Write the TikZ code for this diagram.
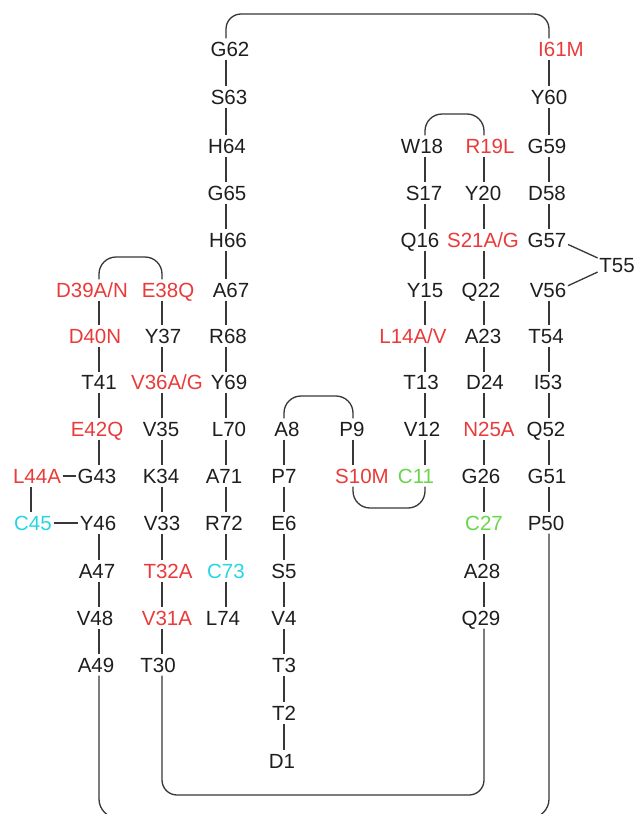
\documentclass[tikz,border=0pt]{standalone}
\usepackage{fontspec}
\setmainfont{Liberation Sans}
\definecolor{mred}{RGB}{234,58,58}
\definecolor{mgreen}{RGB}{104,214,72}
\definecolor{mcyan}{RGB}{38,214,228}
\definecolor{ink}{RGB}{30,30,30}
\definecolor{wire}{RGB}{55,55,55}
\begin{document}
\begin{tikzpicture}[x=1pt,y=-1pt,
  aa/.style={font=\fontsize{20.5}{24}\selectfont, text=ink, inner xsep=1.5pt, inner ysep=3pt, text height=14.7pt, text depth=0pt, anchor=center},
  mut/.style={aa, text=mred},
  cys/.style={aa, text=mgreen},
  cyb/.style={aa, text=mcyan},
  conn/.style={draw=wire, line width=1.3pt},
  loopy/.style={conn, rounded corners=17pt}]
\clip (0,0) rectangle (637,814);
\fill[white] (0,0) rectangle (637,814);
% column line positions
\coordinate (k0) at (31,0);
\coordinate (k1) at (99,0);
\coordinate (k2) at (162,0);
\coordinate (k3) at (226,0);
\coordinate (k4) at (284,0);
\coordinate (k5) at (353,0);
\coordinate (k6) at (425,0);
\coordinate (k7) at (484,0);
\coordinate (k8) at (549,0);
% column 3
\node[aa] (n62) at (230,49) {G62};
\node[aa] (n63) at (229,97) {S63};
\node[aa] (n64) at (227,146) {H64};
\node[aa] (n65) at (227,193) {G65};
\node[aa] (n66) at (228,240) {H66};
\node[aa] (n67) at (231,290) {A67};
\node[aa] (n68) at (228,336) {R68};
\node[aa] (n69) at (229,382.5) {Y69};
\node[aa] (n70) at (229,429) {L70};
\node[aa] (n71) at (224,476) {A71};
\node[aa] (n72) at (224,523) {R72};
\node[cyb] (n73) at (226,571) {C73};
\node[aa] (n74) at (223,618) {L74};
% column 8
\node[mut] (n61) at (561,49) {I61M};
\node[aa] (n60) at (549,97) {Y60};
\node[aa] (n59) at (547,146) {G59};
\node[aa] (n58) at (547,193) {D58};
\node[aa] (n57) at (547,240) {G57};
\node[aa] (n55) at (617,265) {T55};
\node[aa] (n56) at (548,290) {V56};
\node[aa] (n54) at (546,336) {T54};
\node[aa] (n53) at (548,382.5) {I53};
\node[aa] (n52) at (546,429) {Q52};
\node[aa] (n51) at (547,476) {G51};
\node[aa] (n50) at (546,523) {P50};
% column 7
\node[mut] (n19) at (490,146) {R19L};
\node[aa] (n20) at (483,193) {Y20};
\node[mut] (n21) at (483,240) {S21A/G};
\node[aa] (n22) at (481,290) {Q22};
\node[aa] (n23) at (483,336) {A23};
\node[aa] (n24) at (485,382.5) {D24};
\node[mut] (n25) at (489,429) {N25A};
\node[aa] (n26) at (481,476) {G26};
\node[cys] (n27) at (484,523) {C27};
\node[aa] (n28) at (482,571) {A28};
\node[aa] (n29) at (481,618) {Q29};
% column 6
\node[aa] (n18) at (422,146) {W18};
\node[aa] (n17) at (424,193) {S17};
\node[aa] (n16) at (420,240) {Q16};
\node[aa] (n15) at (425,290) {Y15};
\node[mut] (n14) at (413,336) {L14A/V};
\node[aa] (n13) at (421,382.5) {T13};
\node[aa] (n12) at (422,429) {V12};
\node[cys] (n11) at (416,476) {C11};
% column 5
\node[aa] (n9) at (352,429) {P9};
\node[mut] (n10) at (362,476) {S10M};
% column 4
\node[aa] (n8) at (287,429) {A8};
\node[aa] (n7) at (284,476) {P7};
\node[aa] (n6) at (284,523) {E6};
\node[aa] (n5) at (284,571) {S5};
\node[aa] (n4) at (284,618) {V4};
\node[aa] (n3) at (284,665) {T3};
\node[aa] (n2) at (284,713) {T2};
\node[aa] (n1) at (282,761) {D1};
% column 2
\node[mut] (n38) at (168,290) {E38Q};
\node[aa] (n37) at (163,336) {Y37};
\node[mut] (n36) at (167,382.5) {V36A/G};
\node[aa] (n35) at (161,429) {V35};
\node[aa] (n34) at (161,476) {K34};
\node[aa] (n33) at (162,523) {V33};
\node[mut] (n32) at (168,571) {T32A};
\node[mut] (n31) at (167,618) {V31A};
\node[aa] (n30) at (158,665) {T30};
% column 1
\node[mut] (n39) at (92,290) {D39A/N};
\node[mut] (n40) at (95,336) {D40N};
\node[aa] (n41) at (99,382.5) {T41};
\node[mut] (n42) at (97,429) {E42Q};
\node[aa] (n43) at (97,476) {G43};
\node[aa] (n46) at (98,523) {Y46};
\node[aa] (n47) at (97,571) {A47};
\node[aa] (n48) at (95,618) {V48};
\node[aa] (n49) at (96,665) {A49};
% column 0
\node[mut] (n44) at (37,476) {L44A};
\node[cyb] (n45) at (33,523) {C45};

% vertical links
\foreach \a/\b in {62/63,63/64,64/65,65/66,66/67,67/68,68/69,69/70,70/71,71/72,72/73,73/74}
  \draw[conn] (n\a.south -| k3) -- (n\b.north -| k3);
\foreach \a/\b in {61/60,60/59,59/58,58/57,56/54,54/53,53/52,52/51,51/50}
  \draw[conn] (n\a.south -| k8) -- (n\b.north -| k8);
\foreach \a/\b in {19/20,20/21,21/22,22/23,23/24,24/25,25/26,26/27,27/28,28/29}
  \draw[conn] (n\a.south -| k7) -- (n\b.north -| k7);
\foreach \a/\b in {18/17,17/16,16/15,15/14,14/13,13/12,12/11}
  \draw[conn] (n\a.south -| k6) -- (n\b.north -| k6);
\draw[conn] (n9.south -| k5) -- (n10.north -| k5);
\foreach \a/\b in {8/7,7/6,6/5,5/4,4/3,3/2,2/1}
  \draw[conn] (n\a.south -| k4) -- (n\b.north -| k4);
\foreach \a/\b in {38/37,37/36,36/35,35/34,34/33,33/32,32/31,31/30}
  \draw[conn] (n\a.south -| k2) -- (n\b.north -| k2);
\foreach \a/\b in {39/40,40/41,41/42,42/43,46/47,47/48,48/49}
  \draw[conn] (n\a.south -| k1) -- (n\b.north -| k1);
\draw[conn] (n44.south -| k0) -- (n45.north -| k0);
% horizontal / diagonal links
\draw[conn] (n44.east) -- (n43.west);
\draw[conn] (n45.east) -- (n46.west);
\draw[conn] (n57.-12) -- (n55.160);
\draw[conn] (n56.12) -- (n55.200);

% loops
\coordinate (ta) at (226,14);  \coordinate (tb) at (549,14);
\draw[conn, rounded corners=15pt] (n62.north -| ta) -- (ta) -- (tb) -- (n61.north -| tb);
\coordinate (wa) at (425,114); \coordinate (wb) at (484,114);
\draw[loopy] (n18.north -| wa) -- (wa) -- (wb) -- (n19.north -| wb);
\coordinate (da) at (99,257);  \coordinate (db) at (162,257);
\draw[loopy] (n39.north -| da) -- (da) -- (db) -- (n38.north -| db);
\coordinate (pa) at (284,396); \coordinate (pb) at (353,396);
\draw[loopy] (n8.north -| pa) -- (pa) -- (pb) -- (n9.north -| pb);
\coordinate (ca) at (425,508); \coordinate (cb) at (353,508);
\draw[loopy] (n11.south -| ca) -- (ca) -- (cb) -- (n10.south -| cb);
\coordinate (qa) at (484,795); \coordinate (qb) at (162,795);
\draw[conn, rounded corners=15pt] (n29.south -| qa) -- (qa) -- (qb) -- (n30.south -| qb);
\coordinate (ba) at (549,818); \coordinate (bb) at (99,818);
\draw[conn, rounded corners=19pt] (n50.south -| ba) -- (ba) -- (bb) -- (n49.south -| bb);
\end{tikzpicture}
\end{document}
